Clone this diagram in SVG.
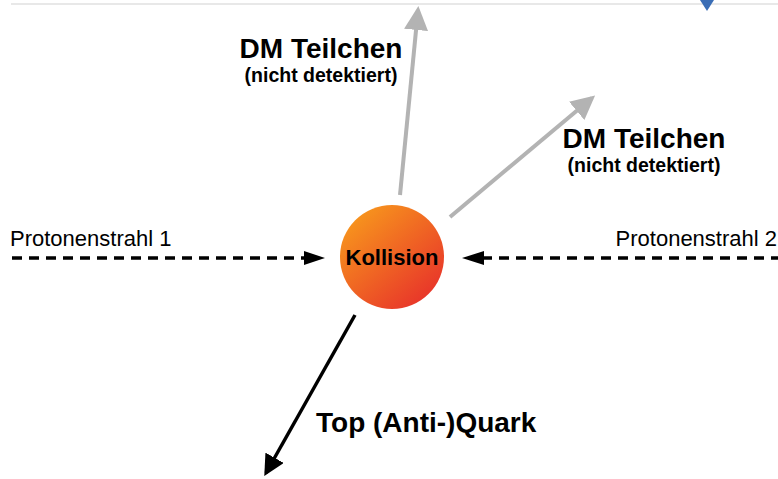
<svg xmlns="http://www.w3.org/2000/svg" width="778" height="479" viewBox="0 0 778 479">
<style>
.t{font-family:"Liberation Sans",Arial,sans-serif;fill:#000}
.b{font-weight:bold}
.gray{stroke:#b3b3b3;stroke-width:4;fill:none}
.dash{stroke:#000;stroke-width:3.5;stroke-dasharray:10 7;fill:none}
</style>
<defs>
<linearGradient id="g" x1="0.15" y1="0.1" x2="0.85" y2="0.9">
<stop offset="0" stop-color="#f7941d"/>
<stop offset="1" stop-color="#e8352a"/>
</linearGradient>
<marker id="ag" markerWidth="6" markerHeight="6" refX="5" refY="3" orient="auto" markerUnits="strokeWidth">
<path d="M0,0 L6,3 L0,6 z" fill="#b3b3b3"/>
</marker>
<marker id="ab" markerWidth="6" markerHeight="6" refX="5" refY="3" orient="auto" markerUnits="strokeWidth">
<path d="M0,0 L6,3 L0,6 z" fill="#000"/>
</marker>
</defs>
<line x1="11" y1="4" x2="778" y2="4" stroke="#e0e0e0" stroke-width="1.5"/>
<polygon points="700,0 714,0 707,11" fill="#3a6db5"/>
<g id="connectors">
<line class="gray" x1="400" y1="195" x2="418" y2="10" marker-end="url(#ag)"/>
<line class="gray" x1="450" y1="217" x2="592" y2="98" marker-end="url(#ag)"/>
<line x1="355" y1="315" x2="266" y2="473" stroke="#000" stroke-width="3.5" marker-end="url(#ab)"/>
<line class="dash" x1="12" y1="258" x2="306" y2="258"/>
<path d="M304,251 L325,258 L304,265 z" fill="#000"/>
<line class="dash" x1="778" y1="258" x2="482" y2="258" stroke-dashoffset="3"/>
<path d="M484,251 L462,258 L484,265 z" fill="#000"/>
</g>
<g id="kollision">
<circle cx="392" cy="257" r="52" fill="url(#g)"/>
<text class="t b" x="392" y="265" font-size="22" text-anchor="middle">Kollision</text>
</g>
<g id="dm1">
<text class="t b" x="321" y="58" font-size="28" text-anchor="middle">DM Teilchen</text>
<text class="t b" x="321" y="82" font-size="19.5" text-anchor="middle">(nicht detektiert)</text>
</g>
<g id="dm2">
<text class="t b" x="644" y="148" font-size="28" text-anchor="middle">DM Teilchen</text>
<text class="t b" x="644" y="172" font-size="19.5" text-anchor="middle">(nicht detektiert)</text>
</g>
<g id="p1">
<text class="t" x="10" y="246" font-size="22">Protonenstrahl 1</text>
</g>
<g id="p2">
<text class="t" x="777" y="246" font-size="22" text-anchor="end">Protonenstrahl 2</text>
</g>
<g id="top">
<text class="t b" x="316" y="432" font-size="28">Top (Anti-)Quark</text>
</g>
</svg>
